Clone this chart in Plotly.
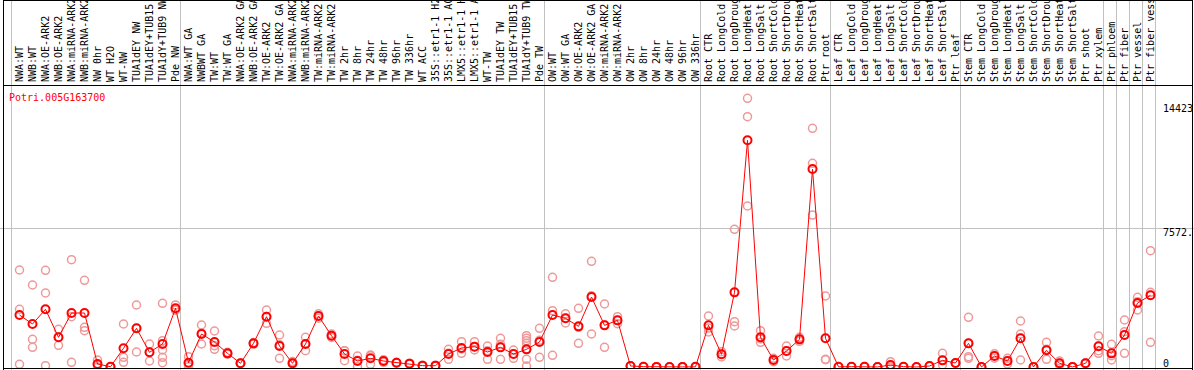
import plotly.graph_objects as go

title_text = "Potri.005G163700"

labels = [
    "NWA:WT", "NWB:WT", "NWA:OE-ARK2", "NWB:OE-ARK2", "NWA:miRNA-ARK2", "NWB:miRNA-ARK2",
    "NW 0hr", "WT H2O", "WT-NW", "TUA1dEY NW", "TUA1dEY+TUB15 NW", "TUA1dY+TUB9 NW", "Pde NW",
    "NWA:WT GA", "NWBWT GA", "TW:WT", "TW:WT GA", "NWA:OE-ARK2 GA", "NWB:OE-ARK2 GA",
    "TW:OE-ARK2", "TW:OE-ARK2 GA", "NWA:miRNA-ARK2", "NWB:miRNA-ARK2", "TW:miRNA-ARK2",
    "TW:miRNA-ARK2", "TW 2hr", "TW 8hr", "TW 24hr", "TW 48hr", "TW 96hr", "TW 336hr", "WT ACC",
    "35S::etr1-1 H2O", "35S::etr1-1 ACC", "LMX5::etr1-1 H2O", "LMX5::etr1-1 ACC", "WT-TW",
    "TUA1dEY TW", "TUA1dEY+TUB15 TW", "TUA1dY+TUB9 TW", "Pde TW",
    "OW:WT", "OW:WT GA", "OW:OE-ARK2", "OW:OE-ARK2 GA", "OW:miRNA-ARK2", "OW:miRNA-ARK2",
    "OW 2hr", "OW 8hr", "OW 24hr", "OW 48hr", "OW 96hr", "OW 336hr",
    "Root CTR", "Root LongCold", "Root LongDrought", "Root LongHeat", "Root LongSalt",
    "Root ShortCold", "Root ShortDrought", "Root ShortHeat", "Root ShortSalt", "Ptr root",
    "Leaf CTR", "Leaf LongCold", "Leaf LongDrought", "Leaf LongHeat", "Leaf LongSalt",
    "Leaf ShortCold", "Leaf ShortDrought", "Leaf ShortHeat", "Leaf ShortSalt", "Ptr leaf",
    "Stem CTR", "Stem LongCold", "Stem LongDrought", "Stem LongHeat", "Stem LongSalt",
    "Stem ShortCold", "Stem ShortDrought", "Stem ShortHeat", "Stem ShortSalt", "Ptr shoot",
    "Ptr xylem", "Ptr phloem", "Ptr fiber", "Ptr vessel", "Ptr fiber vessel",
]

means = [
    2832, 2342, 3142, 1616, 2941, 2941, 163, 16, 1017, 2107, 800, 1253, 3196,
    236, 1797, 1362, 744, 200, 1289, 2741, 1144, 200, 1253, 2778, 1706, 708, 327, 472,
    327, 236, 182, 73, 73, 708, 1035, 1108, 817, 1071, 708, 962, 1362,
    2832, 2651, 2215, 3813, 2269, 2541, 54, 18, 5, 3, 5, 8,
    2269, 690, 4067, 12349, 1616, 381, 871, 1507, 10785, 1562,
    10, 18, 18, 2, 109, 18, 2, 54, 363, 218,
    1289, 2, 599, 327, 1562, 2, 908, 200, 5, 200,
    1126, 744, 1743, 3486, 3905,
]

replicates = [
    [5284, 3141, 147], [4467, 1507, 1071], [5266, 4031, 73], [2053, 1182, 1613],
    [5845, 2741, 254], [4722, 2162, 1979], [381, 109, 0], [20, 10, 20],
    [2342, 527, 254], [3377, 817, 2107], [1253, 327, 800], [3468, 1434, 926, 527, 236],
    [3380, 3100, 3110],
    [563, 130, 15], [2288, 1253, 1850], [1961, 962, 1163], [800, 700, 730],
    [200, 220, 180], [1289, 1250, 1330], [3105, 2378, 2740], [1743, 472, 1217],
    [300, 236, 170], [1616, 890, 1253], [2900, 2778, 2660], [1800, 1706, 1610],
    [890, 345, 889], [599, 18, 364], [654, 145, 617], [400, 327, 254], [254, 236, 218],
    [200, 182, 165], [90, 73, 55], [90, 73, 55], [962, 418, 744], [1380, 744, 981],
    [1380, 1108, 926], [1144, 418, 889], [1562, 418, 1233], [926, 708, 472],
    [1706, 1562, 1434, 1289, 418, 54, 962], [2107, 527, 1452],
    [4886, 3068, 635], [2900, 2651, 2400], [3196, 1289, 2160], [5757, 1797, 3885],
    [3432, 1071, 2304], [2740, 2541, 2360], [60, 54, 48], [30, 18, 6], [5, 0, 10],
    [3, 0, 6], [5, 0, 10], [8, 0, 16],
    [2778, 1906, 2123], [835, 690, 545], [2468, 2233, 7500], [14636, 13634, 8770],
    [1979, 1344, 1525], [472, 381, 290], [1144, 599, 871], [1616, 1507, 1398],
    [13002, 11096, 8279], [3867, 418, 400],
    [10, 5, 15], [20, 18, 16], [25, 18, 11], [5, 0, 0], [290, 109, 0], [20, 18, 16],
    [0, 5, 0], [60, 54, 48], [744, 363, 109], [230, 218, 205],
    [2705, 563, 472, 1289], [0, 5, 0], [720, 599, 480], [472, 327, 163],
    [2506, 1797, 381, 1562], [0, 5, 0], [1344, 418, 962], [327, 200, 109], [10, 0, 5],
    [220, 200, 180],
    [1689, 890, 744, 1126], [1235, 381, 617], [2560, 1925, 744, 1743],
    [3797, 3556, 3105], [6335, 4069, 1345, 3905],
]

group_ends = [-1, 12, 40, 52, 62, 72, 83, 84, 85, 86, 87]
ytick_vals = [14423, 7572, 0]
ytick_text = ["14423", "7572.", "0"]
grid_vals = [7572]

x_idx = list(range(len(labels)))
rep_x, rep_y = [], []
for i, reps in enumerate(replicates):
    for v in reps:
        rep_x.append(i)
        rep_y.append(v)

W, H = 1194, 370
T, B = 85, 1
PLOT_H = H - T - B
YR = [-109, 15362]
XR = [-1.5, -1.5 + W / 13.0]

fig = go.Figure()
fig.add_trace(go.Scatter(
    x=rep_x, y=rep_y, mode="markers",
    marker=dict(symbol="circle-open", size=8, color="#ee9999", line=dict(width=1.5, color="#ee9999")),
    hoverinfo="skip", showlegend=False,
))
fig.add_trace(go.Scatter(
    x=x_idx, y=means, mode="lines+markers",
    line=dict(color="#ff0000", width=1),
    marker=dict(symbol="circle-open", size=8, color="#ff0000", line=dict(width=2, color="#ff0000")),
    showlegend=False,
))

shapes = []
for k in group_ends:
    xv = k + 5.0 / 13.0
    shapes.append(dict(type="line", xref="x", yref="paper", x0=xv, x1=xv,
                       y0=-0.01, y1=1 + T / PLOT_H + 0.01,
                       line=dict(color="#c0c0c0", width=1), layer="below"))

def px_to_paper_y(p):
    return (H - B - p) / PLOT_H

def px_to_paper_x(p):
    return p / W

frame_black = dict(color="black", width=1)
shapes.append(dict(type="line", xref="paper", yref="paper", x0=px_to_paper_x(3.5), x1=px_to_paper_x(3.5),
                   y0=px_to_paper_y(370), y1=px_to_paper_y(0), line=frame_black))
shapes.append(dict(type="line", xref="paper", yref="paper", x0=px_to_paper_x(1192.5), x1=px_to_paper_x(1192.5),
                   y0=px_to_paper_y(370), y1=px_to_paper_y(0), line=frame_black))
for yy in [0.5, 85.5, 368.5]:
    shapes.append(dict(type="line", xref="paper", yref="paper", x0=px_to_paper_x(3), x1=px_to_paper_x(1193),
                       y0=px_to_paper_y(yy), y1=px_to_paper_y(yy), line=frame_black))

annotations = [dict(
    text=title_text, xref="paper", yref="paper", x=px_to_paper_x(7), y=px_to_paper_y(90),
    xanchor="left", yanchor="top", showarrow=False,
    font=dict(family="DejaVu Sans Mono", size=10, color="#ff0000"),
)]
ytick_shift = {14423: 1, 7572: 3, 0: -4}
for v, t in zip(ytick_vals, ytick_text):
    annotations.append(dict(
        text=t, xref="paper", yref="y", x=px_to_paper_x(1161), y=v,
        xanchor="left", yanchor="bottom" if v == 0 else "top", showarrow=False,
        yshift=ytick_shift[v],
        font=dict(family="DejaVu Sans Mono", size=10, color="black"),
    ))

fig.update_layout(
    width=W, height=H,
    margin=dict(l=0, r=0, t=T, b=B, pad=0),
    paper_bgcolor="white", plot_bgcolor="white",
    shapes=shapes, annotations=annotations,
    showlegend=False,
)
fig.update_xaxes(
    range=XR, side="top", tickmode="array", tickvals=x_idx, ticktext=labels,
    tickangle=-90, ticks="", showgrid=False, zeroline=False, showline=False,
    automargin=False, ticklabelstandoff=2,
    tickfont=dict(family="DejaVu Sans Mono", size=10, color="black"),
)
fig.update_yaxes(
    range=YR, tickmode="array", tickvals=grid_vals, showticklabels=False,
    showgrid=True, gridcolor="#c0c0c0", gridwidth=1, zeroline=False, showline=False,
    automargin=False,
)

fig.write_html(
    "out.html",
    config={"displayModeBar": False},
    post_script="document.body.style.margin='0';document.body.style.overflow='hidden';",
)
